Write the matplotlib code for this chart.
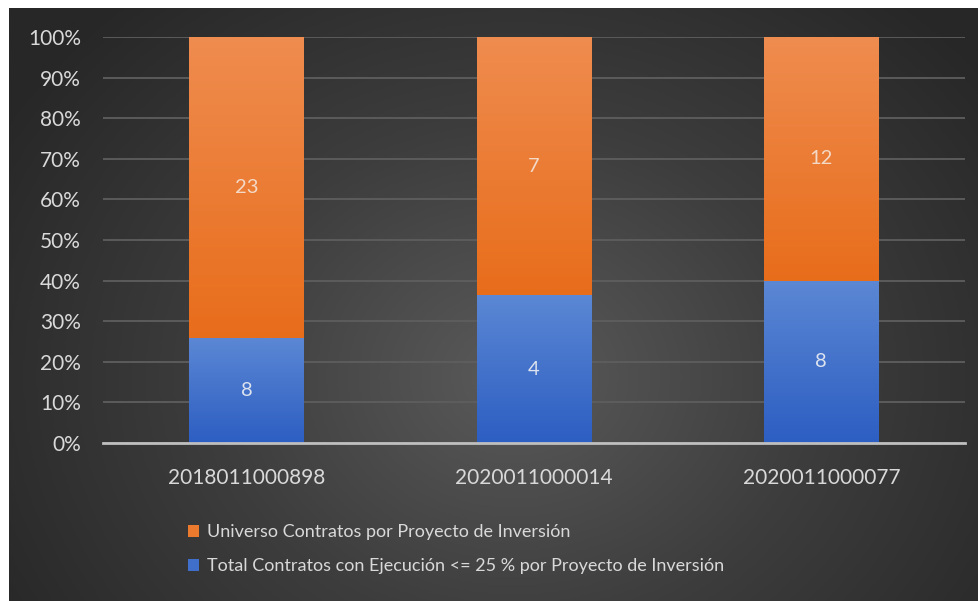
import matplotlib.pyplot as plt
import numpy as np
from matplotlib.colors import LinearSegmentedColormap

# Datos
proyectos = ['2018011000898', '2020011000014', '2020011000077']
universo = [23, 7, 12]
total_bajo = [8, 4, 8]
etiqueta_universo = 'Universo Contratos por Proyecto de Inversión'
etiqueta_total = 'Total Contratos con Ejecución <= 25 % por Proyecto de Inversión'

plt.rcParams['font.family'] = ['Lato', 'DejaVu Sans']

fig = plt.figure(figsize=(9.79, 6.01), dpi=100)
fig.patch.set_facecolor('white')

# fondo con degradado radial
bg = fig.add_axes([9/979, 0, 970/979, 593/601])
ny, nx = 300, 490
yy, xx = np.mgrid[0:ny, 0:nx]
cx, cy = nx * 0.52, ny * 0.62
r = np.sqrt(((xx - cx) / (nx * 0.62)) ** 2 + ((yy - cy) / (ny * 0.85)) ** 2)
r = np.clip(r, 0, 1)
cmap_bg = LinearSegmentedColormap.from_list('bg', ['#5a5a5a', '#3d3d3d', '#272727'])
bg.imshow(r, cmap=cmap_bg, aspect='auto', vmin=0, vmax=1)
bg.set_axis_off()

ax = fig.add_axes([103/979, 1 - 443/601, 862/979, 406/601])
ax.patch.set_alpha(0)

totales = np.array(universo) + np.array(total_bajo)
p_total = np.array(total_bajo) / totales
p_univ = np.array(universo) / totales
x = np.arange(len(proyectos))
ancho = 0.4

b1 = ax.bar(x, p_total, ancho, color='#3f6fcb', label=etiqueta_total, zorder=3)
b2 = ax.bar(x, p_univ, ancho, bottom=p_total, color='#ec7a2e', label=etiqueta_universo, zorder=3)

# degradado vertical en cada segmento
grad = np.linspace(0, 1, 100).reshape(-1, 1)
cm_azul = LinearSegmentedColormap.from_list('az', ['#2d5ec2', '#5b87d4'])
cm_nar = LinearSegmentedColormap.from_list('na', ['#e86d1b', '#ef8c4f'])
for barras, cm in [(b1, cm_azul), (b2, cm_nar)]:
    for p in barras:
        x0, y0 = p.get_x(), p.get_y()
        im = ax.imshow(grad, cmap=cm, aspect='auto', origin='lower',
                       extent=[x0, x0 + p.get_width(), y0, y0 + p.get_height()], zorder=4)
        im.set_clip_path(p)

# etiquetas de datos
for i in range(len(proyectos)):
    ax.text(x[i], p_total[i] / 2, str(total_bajo[i]), ha='center', va='center',
            color='#dde3ef', fontsize=14.5, zorder=5)
    ax.text(x[i], p_total[i] + p_univ[i] / 2, str(universo[i]), ha='center', va='center',
            color='#f3d9c6', fontsize=14.5, zorder=5)

ax.set_xlim(-0.5, 2.5)
ax.set_ylim(0, 1)
ax.set_yticks(np.arange(0, 1.01, 0.1))
ax.set_yticklabels([f'{int(round(v * 100))}%' for v in np.arange(0, 1.01, 0.1)])
ax.set_xticks(x)
ax.set_xticklabels(proyectos)
ax.tick_params(axis='both', length=0, colors='#d9d9d9', labelsize=15)
ax.tick_params(axis='y', pad=16)
ax.tick_params(axis='x', pad=18)
ax.grid(axis='y', color='#5e5e5e', linewidth=1.3, zorder=0)
for s in ['top', 'right', 'left']:
    ax.spines[s].set_visible(False)
ax.spines['bottom'].set_color('#bfbfbf')
ax.spines['bottom'].set_linewidth(2)
ax.spines['bottom'].set_zorder(6)

leg = fig.legend(handles=[b2, b1], labels=[etiqueta_universo, etiqueta_total],
                 loc='upper left', bbox_to_anchor=(172/979, 1 - 508/601), frameon=False,
                 handlelength=0.6, handleheight=0.6, handletextpad=0.45, labelspacing=1.0,
                 fontsize=13, labelcolor='#d9d9d9')

fig.savefig('out.png', dpi=100)
